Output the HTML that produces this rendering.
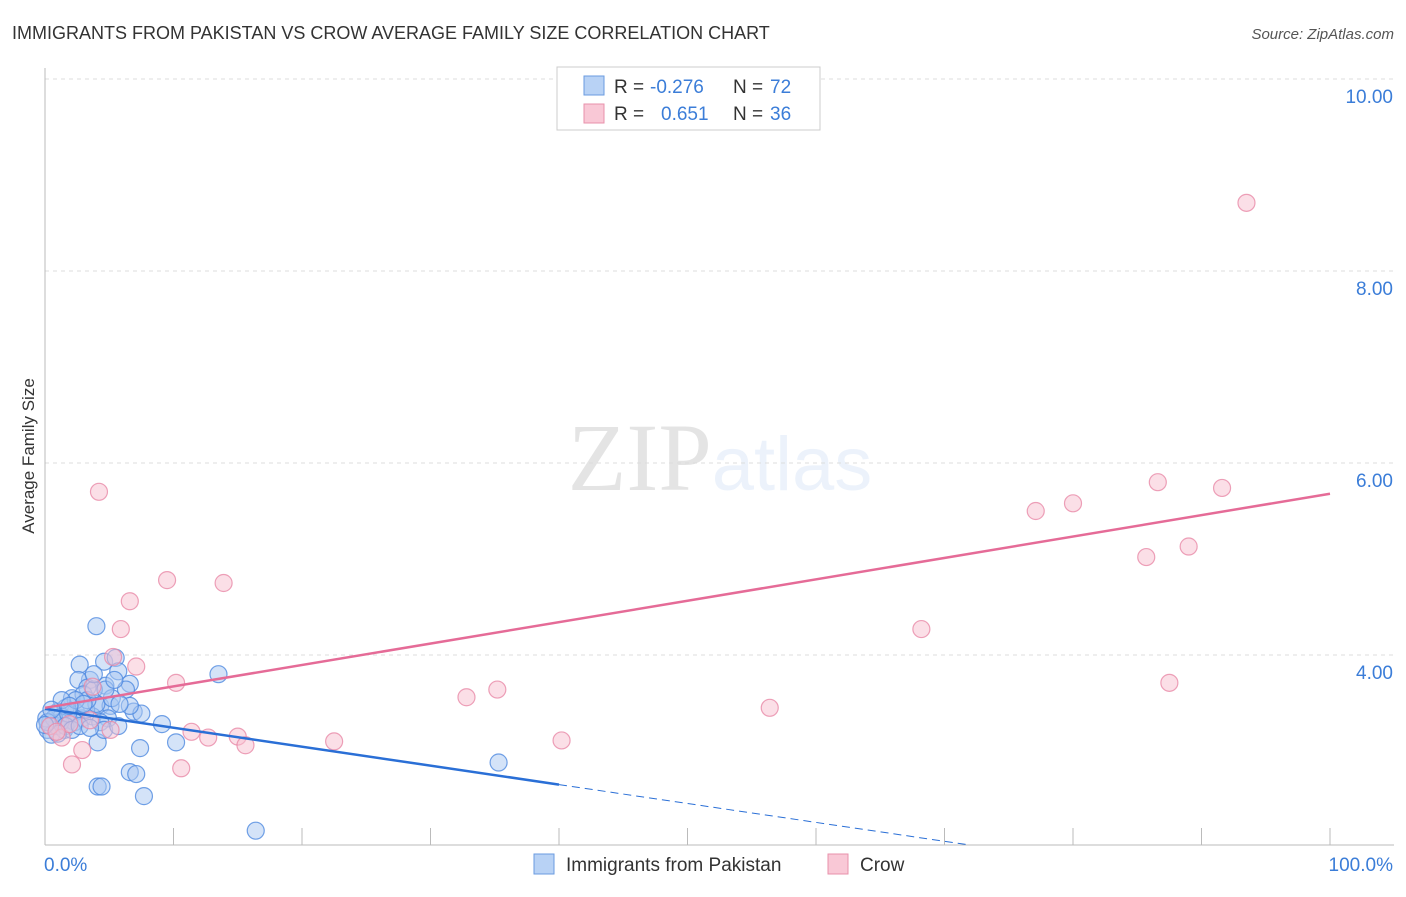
<!DOCTYPE html>
<html><head><meta charset="utf-8"><style>
body{margin:0;background:#fff;font-family:"Liberation Sans",sans-serif;}
svg text{font-family:"Liberation Sans",sans-serif;}
</style></head><body>
<svg id="chart" width="1406" height="892" viewBox="0 0 1406 892" xmlns="http://www.w3.org/2000/svg">
<text x="12" y="39" font-size="18" fill="#333">IMMIGRANTS FROM PAKISTAN VS CROW AVERAGE FAMILY SIZE CORRELATION CHART</text>
<text x="1394" y="39" font-size="15" fill="#555" text-anchor="end" font-style="italic">Source: ZipAtlas.com</text>
<text x="720" y="490" font-size="96" text-anchor="middle" fill="#000" opacity="0.1"><tspan font-family="Liberation Serif">ZIP</tspan><tspan fill="#3b7dd8" opacity="0.9" font-size="76">atlas</tspan></text>
<text transform="translate(34,456) rotate(-90)" font-size="17" fill="#333" text-anchor="middle">Average Family Size</text>
<g id="grid"></g><g id="axes"></g><g id="marks"></g>
<g>
<rect x="557" y="67" width="263" height="63" fill="#fff" stroke="#ccc"/>
<rect x="584" y="76" width="20" height="19" fill="#b8d2f5" stroke="#6a9be0"/>
<rect x="584" y="104" width="20" height="19" fill="#f9c8d6" stroke="#e891ab"/>
<text x="614" y="93" font-size="19" fill="#333">R =</text>
<text x="650" y="93" font-size="19" fill="#3b7dd8">-0.276</text>
<text x="733" y="93" font-size="19" fill="#333">N =</text>
<text x="770" y="93" font-size="19" fill="#3b7dd8">72</text>
<text x="614" y="120" font-size="19" fill="#333">R =</text>
<text x="661" y="120" font-size="19" fill="#3b7dd8">0.651</text>
<text x="733" y="120" font-size="19" fill="#333">N =</text>
<text x="770" y="120" font-size="19" fill="#3b7dd8">36</text>
</g>
<g>
<rect x="534" y="854" width="20" height="20" fill="#b8d2f5" stroke="#6a9be0"/>
<text x="566" y="871" font-size="19" fill="#333">Immigrants from Pakistan</text>
<rect x="828" y="854" width="20" height="20" fill="#f9c8d6" stroke="#e891ab"/>
<text x="860" y="871" font-size="19" fill="#333">Crow</text>
</g>
</svg>
<script>
const yTicks=[4,6,8,10];
const yTickLabels=["4.00","6.00","8.00","10.00"];
const xTickLabels=["0.0%","100.0%"];
const blueX=[4.0,2.7,4.6,5.5,3.5,2.6,3.3,5.7,4.7,6.6,6.3,2.1,3.0,4.3,5.1,2.4,1.6,1.0,1.3,1.9,2.9,3.7,4.9,6.9,7.5,6.6,9.1,4.1,7.4,10.2,13.5,6.6,7.1,4.1,4.4,7.7,16.4,35.3,0.4,0.2,0.5,0.9,1.5,2.3,1.2,0.1,0.7,1.8,3.2,4.0,5.2,5.8,3.3,2.4,3.8,1.6,2.1,1.0,0.2,2.7,4.3,4.6,5.7,3.5,3.0,4.7,5.4,3.8,1.3,1.9,0.5,0.0];
const blueY=[4.30,3.90,3.93,3.97,3.74,3.74,3.66,3.83,3.68,3.70,3.64,3.55,3.59,3.47,3.47,3.41,3.45,3.41,3.36,3.32,3.34,3.36,3.34,3.41,3.39,3.47,3.28,3.09,3.03,3.09,3.80,2.78,2.76,2.63,2.63,2.53,2.17,2.88,3.30,3.22,3.17,3.26,3.22,3.30,3.30,3.34,3.34,3.39,3.43,3.49,3.55,3.49,3.53,3.53,3.64,3.26,3.22,3.18,3.30,3.26,3.30,3.22,3.26,3.24,3.49,3.64,3.74,3.80,3.53,3.47,3.43,3.27];
const pinkX=[93.5,4.2,9.5,13.9,6.6,5.9,5.3,7.1,10.2,3.7,32.8,35.2,77.1,80.0,86.6,91.6,85.7,89.0,68.2,87.5,56.4,22.5,40.2,11.4,12.7,15.0,15.6,10.6,5.1,2.9,2.1,1.3,0.4,1.9,0.9,3.5];
const pinkY=[8.71,5.70,4.78,4.75,4.56,4.27,3.98,3.88,3.71,3.67,3.56,3.64,5.50,5.58,5.80,5.74,5.02,5.13,4.27,3.71,3.45,3.10,3.11,3.20,3.14,3.15,3.06,2.82,3.22,3.01,2.86,3.14,3.26,3.28,3.20,3.32];
const blueTrend=[[0,3.44],[40,2.65],[72,2.02]];
const pinkTrend=[[0,3.45],[100,5.68]];
const NS="http://www.w3.org/2000/svg";
const sx=v=>45+v*12.85, sy=v=>79+(10-v)*96;
function mk(t,a,p){const e=document.createElementNS(NS,t);for(const k in a)e.setAttribute(k,a[k]);p.appendChild(e);return e;}
const grid=document.getElementById('grid'),axes=document.getElementById('axes'),marks=document.getElementById('marks');
yTicks.forEach((v,i)=>{
 const l=mk('line',{x1:45,x2:1394,y1:sy(v),y2:sy(v),stroke:'#ddd','stroke-dasharray':'4,4'},grid);
 
 
 const t=mk('text',{x:1393,y:sy(v)+24,'font-size':19,fill:'#3b7dd8','text-anchor':'end'},axes);t.textContent=yTickLabels[i];
 
 
});
const ya=mk('line',{x1:45,x2:45,y1:68,y2:845,stroke:'#bbb'},axes);


const xa=mk('line',{x1:45,x2:1394,y1:845,y2:845,stroke:'#bbb'},axes);


for(let i=1;i<=10;i++){const tk=mk('line',{x1:sx(i*10),x2:sx(i*10),y1:828,y2:845,stroke:'#bbb'},axes);
 
 }
[[0,'start',44],[100,'end',1393]].forEach((d,i)=>{const t=mk('text',{x:d[2],y:871,'font-size':19,fill:'#3b7dd8','text-anchor':d[1]},axes);t.textContent=xTickLabels[i];
 
 });
function dots(X,Y,fill,stroke,name){X.forEach((x,i)=>{const c=mk('circle',{cx:sx(x),cy:sy(Y[i]),r:8.5,fill:fill,'fill-opacity':0.5,stroke:stroke,'stroke-width':1.2,'stroke-opacity':0.8},marks);
 
 });}
dots(blueX,blueY,'#a9c8f2','#4f8ae0','pakistan-point');
dots(pinkX,pinkY,'#f8c0d0','#e88aa8','crow-point');
const b1=mk('line',{x1:sx(blueTrend[0][0]),y1:sy(blueTrend[0][1]),x2:sx(blueTrend[1][0]),y2:sy(blueTrend[1][1]),stroke:'#2a6fd6','stroke-width':2.5},marks);


const b2=mk('line',{x1:sx(blueTrend[1][0]),y1:sy(blueTrend[1][1]),x2:sx(blueTrend[2][0]),y2:sy(blueTrend[2][1]),stroke:'#2a6fd6','stroke-width':1,'stroke-dasharray':'8,5'},marks);


const p1=mk('line',{x1:sx(pinkTrend[0][0]),y1:sy(pinkTrend[0][1]),x2:sx(pinkTrend[1][0]),y2:sy(pinkTrend[1][1]),stroke:'#e56b97','stroke-width':2.5},marks);


</script>
</body></html>
